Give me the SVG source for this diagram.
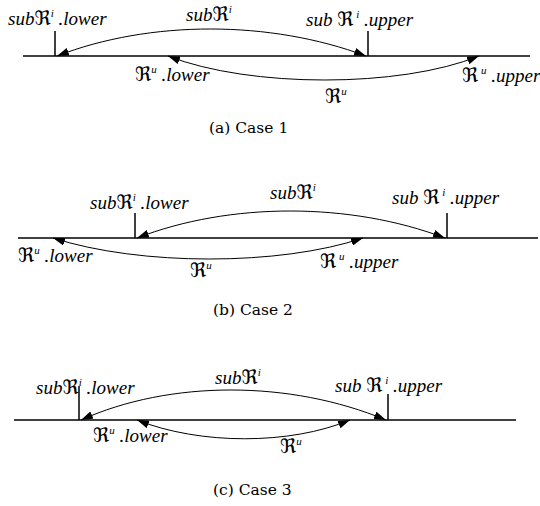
<svg xmlns="http://www.w3.org/2000/svg" width="540" height="506" viewBox="0 0 540 506">
  <style>
    .axis { stroke: #000; stroke-width: 1.5; fill: none; }
    .tick { stroke: #000; stroke-width: 1.5; fill: none; }
    .arc { stroke: #000; stroke-width: 1; fill: none; marker-start: url(#head); marker-end: url(#head); }
    .lbl { font-family: "Liberation Serif", "DejaVu Serif", serif; font-style: italic; font-size: 19px; fill: #000; }
    .fr { font-family: "DejaVu Serif", "DejaVu Sans", serif; font-style: normal; font-size: 20px; }
    .sup { font-size: 11px; }
    .cap { font-family: "DejaVu Serif", "Liberation Serif", serif; font-size: 15.5px; fill: #000; }
  </style>
  <defs>
    <marker id="head" viewBox="0 0 12 8" refX="12" refY="4" markerWidth="12" markerHeight="8" markerUnits="userSpaceOnUse" orient="auto-start-reverse">
      <path d="M0,0 L12,4 L0,8 Z" fill="#000"/>
    </marker>
  </defs>

  <!-- Case 1 -->
  <g id="case1">
    <line class="axis" x1="23" y1="56" x2="530" y2="56"/>
    <line class="tick" x1="55" y1="31" x2="55" y2="56"/>
    <line class="tick" x1="368" y1="31" x2="368" y2="56"/>
    <g id="c1-connectors">
      <path class="arc" d="M57,56 C150,20 270,20 366,56"/>
      <path class="arc" d="M168,56 C250,88 400,88 479,56"/>
    </g>
    <text class="lbl" x="8" y="25">sub<tspan class="fr">ℜ</tspan><tspan class="sup" dy="-8">i</tspan><tspan dy="8"> .lower</tspan></text>
    <text class="lbl" x="186" y="21">sub<tspan class="fr">ℜ</tspan><tspan class="sup" dy="-8">i</tspan></text>
    <text class="lbl" x="306" y="26">sub <tspan class="fr">ℜ</tspan><tspan class="sup" dy="-8"> i</tspan><tspan dy="8"> .upper</tspan></text>
    <text class="lbl" x="135" y="81"><tspan class="fr">ℜ</tspan><tspan class="sup" dy="-8">u</tspan><tspan dy="8"> .lower</tspan></text>
    <text class="lbl" x="462" y="82"><tspan class="fr">ℜ</tspan><tspan class="sup" dy="-8"> u</tspan><tspan dy="8"> .upper</tspan></text>
    <text class="lbl" x="325" y="103"><tspan class="fr">ℜ</tspan><tspan class="sup" dy="-8">u</tspan></text>
    <text class="cap" x="209" y="133">(a) Case 1</text>
  </g>

  <!-- Case 2 -->
  <g id="case2">
    <line class="axis" x1="18" y1="238" x2="538" y2="238"/>
    <line class="tick" x1="135" y1="213" x2="135" y2="238"/>
    <line class="tick" x1="447" y1="213" x2="447" y2="238"/>
    <g id="c2-connectors">
      <path class="arc" d="M137,238 C230,202 350,202 445,238"/>
      <path class="arc" d="M53,238 C140,266 280,266 363,238"/>
    </g>
    <text class="lbl" x="90" y="209">sub<tspan class="fr">ℜ</tspan><tspan class="sup" dy="-8">i</tspan><tspan dy="8"> .lower</tspan></text>
    <text class="lbl" x="270" y="199">sub<tspan class="fr">ℜ</tspan><tspan class="sup" dy="-8">i</tspan></text>
    <text class="lbl" x="392" y="204">sub <tspan class="fr">ℜ</tspan><tspan class="sup" dy="-8"> i</tspan><tspan dy="8"> .upper</tspan></text>
    <text class="lbl" x="18" y="262"><tspan class="fr">ℜ</tspan><tspan class="sup" dy="-8">u</tspan><tspan dy="8"> .lower</tspan></text>
    <text class="lbl" x="320" y="268"><tspan class="fr">ℜ</tspan><tspan class="sup" dy="-8"> u</tspan><tspan dy="8"> .upper</tspan></text>
    <text class="lbl" x="190" y="277"><tspan class="fr">ℜ</tspan><tspan class="sup" dy="-8">u</tspan></text>
    <text class="cap" x="213" y="315">(b) Case 2</text>
  </g>

  <!-- Case 3 -->
  <g id="case3">
    <line class="axis" x1="14" y1="420" x2="516" y2="420"/>
    <line class="tick" x1="79" y1="386" x2="79" y2="420"/>
    <line class="tick" x1="388" y1="394" x2="388" y2="420"/>
    <g id="c3-connectors">
      <path class="arc" d="M81,420 C170,380 290,380 386,420"/>
      <path class="arc" d="M137,420 C200,445 290,445 350,420"/>
    </g>
    <text class="lbl" x="36" y="394">sub<tspan class="fr">ℜ</tspan><tspan class="sup" dy="-8">i</tspan><tspan dy="8"> .lower</tspan></text>
    <text class="lbl" x="215" y="384">sub<tspan class="fr">ℜ</tspan><tspan class="sup" dy="-8">i</tspan></text>
    <text class="lbl" x="335" y="392">sub <tspan class="fr">ℜ</tspan><tspan class="sup" dy="-8"> i</tspan><tspan dy="8"> .upper</tspan></text>
    <text class="lbl" x="93" y="442"><tspan class="fr">ℜ</tspan><tspan class="sup" dy="-8">u</tspan><tspan dy="8"> .lower</tspan></text>
    <text class="lbl" x="280" y="453"><tspan class="fr">ℜ</tspan><tspan class="sup" dy="-8">u</tspan></text>
    <text class="cap" x="213" y="495">(c) Case 3</text>
  </g>
</svg>
